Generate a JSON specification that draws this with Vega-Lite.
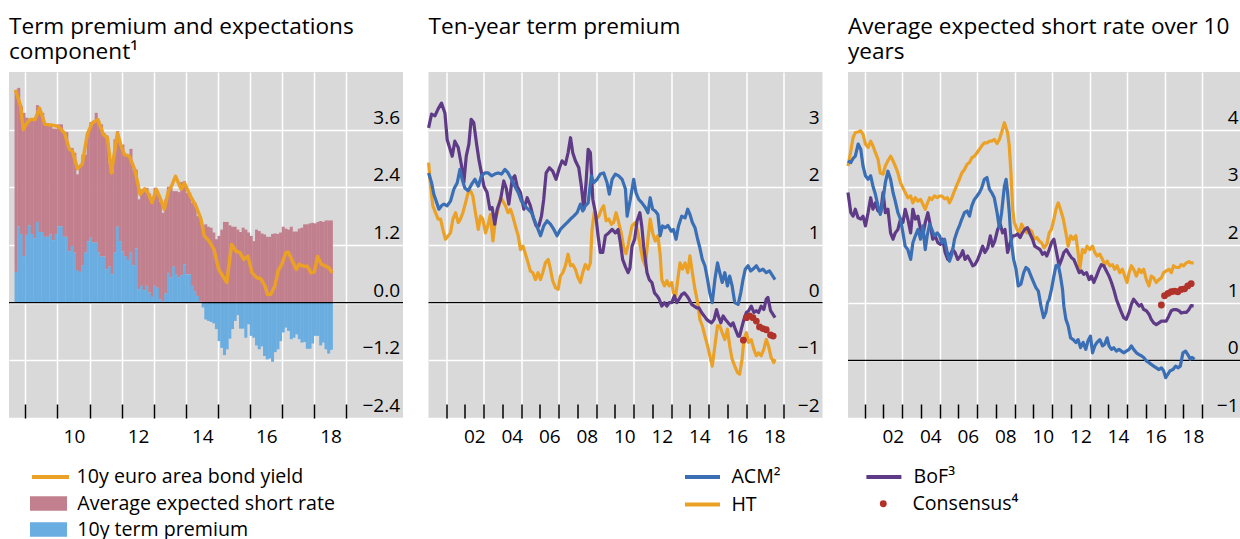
{
"$schema": "https://vega.github.io/schema/vega-lite/v6.json",
"background": "white",
"padding": {"left": 8, "top": 15, "right": 0, "bottom": 0},
"bounds": "flush",
"spacing": 25.5,
"config": {
  "font": "Open Sans",
  "view": {"fill": "#D9D9D9", "stroke": null},
  "axis": {"labelFont": "Open Sans", "labelFontSize": 19, "labelColor": "#000000", "domain": false, "gridColor": "#FFFFFF", "gridWidth": 1.5, "gridOpacity": 1},
  "legend": {"labelFont": "Open Sans", "labelFontSize": 19.6, "labelColor": "#000000", "padding": 0, "orient": "none", "labelLimit": 500},
  "title": {"anchor": "start", "frame": "group", "font": "Open Sans", "fontSize": 22.6, "fontWeight": "normal", "color": "#000000", "lineHeight": 25.5, "offset": 8}
},
"datasets": {
  "p1bars": [
{"t":2008.708,"tp":0.64,"er":3.78},{"t":2008.792,"tp":1.59,"er":2.88},{"t":2008.875,"tp":1.43,"er":2.66},{"t":2008.958,"tp":0.97,"er":2.98},
{"t":2009.042,"tp":1.41,"er":2.44},{"t":2009.125,"tp":1.61,"er":2.20},{"t":2009.208,"tp":1.43,"er":2.38},{"t":2009.292,"tp":1.34,"er":2.47},{"t":2009.375,"tp":1.68,"er":2.43},{"t":2009.458,"tp":1.47,"er":2.51},{"t":2009.542,"tp":1.47,"er":2.48},{"t":2009.625,"tp":1.37,"er":2.34},{"t":2009.708,"tp":1.37,"er":2.34},{"t":2009.792,"tp":1.42,"er":2.27},{"t":2009.875,"tp":1.30,"er":2.32},{"t":2009.958,"tp":1.43,"er":2.19},
{"t":2010.042,"tp":1.59,"er":2.12},{"t":2010.125,"tp":1.59,"er":2.12},{"t":2010.208,"tp":1.37,"er":2.18},{"t":2010.292,"tp":1.37,"er":2.18},{"t":2010.375,"tp":1.07,"er":2.15},{"t":2010.458,"tp":1.18,"er":2.04},{"t":2010.542,"tp":1.04,"er":2.08},{"t":2010.625,"tp":0.68,"er":1.99},{"t":2010.708,"tp":0.64,"er":2.20},{"t":2010.792,"tp":0.78,"er":2.30},{"t":2010.875,"tp":1.04,"er":2.04},{"t":2010.958,"tp":1.28,"er":2.29},
{"t":2011.042,"tp":1.35,"er":2.41},{"t":2011.125,"tp":1.25,"er":2.51},{"t":2011.208,"tp":1.25,"er":2.70},{"t":2011.292,"tp":1.05,"er":2.66},{"t":2011.375,"tp":0.96,"er":2.75},{"t":2011.458,"tp":0.96,"er":2.57},{"t":2011.542,"tp":0.69,"er":2.79},{"t":2011.625,"tp":0.75,"er":2.15},{"t":2011.708,"tp":0.59,"er":2.11},{"t":2011.792,"tp":1.04,"er":2.36},{"t":2011.875,"tp":1.58,"er":1.99},{"t":2011.958,"tp":1.28,"er":2.05},
{"t":2012.042,"tp":1.07,"er":2.22},{"t":2012.125,"tp":0.97,"er":2.08},{"t":2012.208,"tp":0.89,"er":2.19},{"t":2012.292,"tp":1.04,"er":2.16},{"t":2012.375,"tp":0.78,"er":1.99},{"t":2012.458,"tp":1.13,"er":1.64},{"t":2012.542,"tp":0.28,"er":1.87},{"t":2012.625,"tp":0.35,"er":2.01},{"t":2012.708,"tp":0.26,"er":2.13},{"t":2012.792,"tp":0.35,"er":2.04},{"t":2012.875,"tp":0.21,"er":2.06},{"t":2012.958,"tp":0.12,"er":1.96},
{"t":2013.042,"tp":0.35,"er":2.04},{"t":2013.125,"tp":0.31,"er":1.98},{"t":2013.208,"tp":0.07,"er":2.03},{"t":2013.292,"tp":0.02,"er":1.85},{"t":2013.375,"tp":0.19,"er":1.96},{"t":2013.458,"tp":0.62,"er":1.79},{"t":2013.542,"tp":0.52,"er":1.87},{"t":2013.625,"tp":0.75,"er":1.57},{"t":2013.708,"tp":0.58,"er":1.74},{"t":2013.792,"tp":0.52,"er":1.78},{"t":2013.875,"tp":0.57,"er":1.94},{"t":2013.958,"tp":0.80,"er":1.73},
{"t":2014.042,"tp":0.59,"er":1.70},{"t":2014.125,"tp":0.59,"er":1.70},{"t":2014.208,"tp":0.35,"er":1.73},{"t":2014.292,"tp":0.24,"er":1.84},{"t":2014.375,"tp":0.14,"er":1.66},{"t":2014.458,"tp":0.02,"er":1.78},{"t":2014.542,"tp":-0.10,"er":1.61},{"t":2014.625,"tp":-0.35,"er":1.63},{"t":2014.708,"tp":-0.38,"er":1.58},{"t":2014.792,"tp":-0.40,"er":1.56},{"t":2014.875,"tp":-0.43,"er":1.46},{"t":2014.958,"tp":-0.55,"er":1.32},
{"t":2015.042,"tp":-0.80,"er":1.39},{"t":2015.125,"tp":-0.94,"er":1.52},{"t":2015.208,"tp":-1.09,"er":1.68},{"t":2015.292,"tp":-0.97,"er":1.68},{"t":2015.375,"tp":-0.75,"er":1.61},{"t":2015.458,"tp":-0.55,"er":1.58},{"t":2015.542,"tp":-0.38,"er":1.58},{"t":2015.625,"tp":-0.26,"er":1.52},{"t":2015.708,"tp":-0.54,"er":1.47},{"t":2015.792,"tp":-0.54,"er":1.56},{"t":2015.875,"tp":-0.73,"er":1.52},{"t":2015.958,"tp":-0.45,"er":1.46},
{"t":2016.042,"tp":-0.69,"er":1.39},{"t":2016.125,"tp":-0.73,"er":1.28},{"t":2016.208,"tp":-0.89,"er":1.52},{"t":2016.292,"tp":-0.97,"er":1.49},{"t":2016.375,"tp":-0.91,"er":1.44},{"t":2016.458,"tp":-1.11,"er":1.42},{"t":2016.542,"tp":-1.18,"er":1.37},{"t":2016.625,"tp":-1.16,"er":1.37},{"t":2016.708,"tp":-1.23,"er":1.43},{"t":2016.792,"tp":-1.03,"er":1.44},{"t":2016.875,"tp":-0.97,"er":1.43},{"t":2016.958,"tp":-0.80,"er":1.46},
{"t":2017.042,"tp":-0.62,"er":1.58},{"t":2017.125,"tp":-0.52,"er":1.54},{"t":2017.208,"tp":-0.59,"er":1.52},{"t":2017.292,"tp":-0.76,"er":1.58},{"t":2017.375,"tp":-0.73,"er":1.48},{"t":2017.458,"tp":-0.66,"er":1.48},{"t":2017.542,"tp":-0.76,"er":1.54},{"t":2017.625,"tp":-0.83,"er":1.56},{"t":2017.708,"tp":-0.82,"er":1.63},{"t":2017.792,"tp":-0.96,"er":1.63},{"t":2017.875,"tp":-0.96,"er":1.65},{"t":2017.958,"tp":-0.85,"er":1.66},
{"t":2018.042,"tp":-0.69,"er":1.65},{"t":2018.125,"tp":-0.69,"er":1.68},{"t":2018.208,"tp":-0.89,"er":1.70},{"t":2018.292,"tp":-0.83,"er":1.68},{"t":2018.375,"tp":-0.97,"er":1.71},{"t":2018.458,"tp":-1.06,"er":1.71},{"t":2018.542,"tp":-0.98,"er":1.71}
  ],
  "p1y": [
{"t":2008.69,"v":4.43},{"t":2008.85,"v":4.09},{"t":2008.93,"v":3.6},{"t":2009.05,"v":3.74},{"t":2009.15,"v":3.81},{"t":2009.30,"v":3.81},{"t":2009.44,"v":4.05},{"t":2009.61,"v":3.71},{"t":2009.86,"v":3.69},{"t":2010.01,"v":3.67},{"t":2010.22,"v":3.53},{"t":2010.37,"v":3.19},{"t":2010.47,"v":3.15},{"t":2010.62,"v":2.79},{"t":2010.77,"v":2.88},{"t":2010.93,"v":3.5},{"t":2011.08,"v":3.74},{"t":2011.26,"v":3.81},{"t":2011.43,"v":3.5},{"t":2011.56,"v":3.43},{"t":2011.68,"v":2.70},{"t":2011.87,"v":3.53},{"t":2011.97,"v":3.29},{"t":2012.09,"v":3.08},{"t":2012.24,"v":3.05},{"t":2012.41,"v":2.77},{"t":2012.58,"v":2.25},{"t":2012.72,"v":2.37},{"t":2012.82,"v":2.29},{"t":2012.95,"v":2.08},{"t":2013.08,"v":2.36},{"t":2013.20,"v":2.18},{"t":2013.33,"v":1.94},{"t":2013.46,"v":2.32},{"t":2013.56,"v":2.43},{"t":2013.68,"v":2.63},{"t":2013.86,"v":2.36},{"t":2013.96,"v":2.49},{"t":2014.12,"v":2.25},{"t":2014.32,"v":2.01},{"t":2014.47,"v":1.75},{"t":2014.58,"v":1.39},{"t":2014.73,"v":1.28},{"t":2014.88,"v":1.11},{"t":2015.03,"v":0.69},{"t":2015.16,"v":0.55},{"t":2015.28,"v":0.42},{"t":2015.43,"v":1.21},{"t":2015.57,"v":1.07},{"t":2015.69,"v":1.04},{"t":2015.81,"v":0.90},{"t":2015.94,"v":0.97},{"t":2016.07,"v":0.62},{"t":2016.21,"v":0.52},{"t":2016.34,"v":0.50},{"t":2016.47,"v":0.35},{"t":2016.55,"v":0.17},{"t":2016.65,"v":0.17},{"t":2016.78,"v":0.35},{"t":2016.88,"v":0.66},{"t":2017.0,"v":0.80},{"t":2017.12,"v":1.04},{"t":2017.20,"v":1.05},{"t":2017.35,"v":0.83},{"t":2017.45,"v":0.69},{"t":2017.53,"v":0.80},{"t":2017.66,"v":0.76},{"t":2017.79,"v":0.76},{"t":2017.91,"v":0.62},{"t":2018.01,"v":0.64},{"t":2018.11,"v":0.96},{"t":2018.23,"v":0.80},{"t":2018.36,"v":0.76},{"t":2018.46,"v":0.73},{"t":2018.57,"v":0.62}
  ],
  "p2acm": [
{"t":2000.06,"v":2.25},{"t":2000.22,"v":2.08},{"t":2000.34,"v":1.88},{"t":2000.47,"v":1.76},{"t":2000.61,"v":1.62},{"t":2000.75,"v":1.68},{"t":2000.88,"v":1.71},{"t":2001.05,"v":1.68},{"t":2001.23,"v":1.76},{"t":2001.41,"v":1.97},{"t":2001.59,"v":2.08},{"t":2001.73,"v":2.31},{"t":2001.85,"v":2.14},{"t":2001.99,"v":1.99},{"t":2002.17,"v":1.94},{"t":2002.35,"v":2.05},{"t":2002.53,"v":2.14},{"t":2002.71,"v":2.02},{"t":2002.88,"v":2.20},{"t":2003.06,"v":2.25},{"t":2003.24,"v":2.25},{"t":2003.42,"v":2.20},{"t":2003.59,"v":2.23},{"t":2003.77,"v":2.25},{"t":2003.95,"v":2.23},{"t":2004.13,"v":2.31},{"t":2004.30,"v":2.25},{"t":2004.48,"v":2.14},{"t":2004.66,"v":2.02},{"t":2004.84,"v":1.91},{"t":2005.01,"v":1.76},{"t":2005.19,"v":1.68},{"t":2005.37,"v":1.62},{"t":2005.55,"v":1.56},{"t":2005.72,"v":1.42},{"t":2005.90,"v":1.27},{"t":2006.03,"v":1.16},{"t":2006.20,"v":1.33},{"t":2006.38,"v":1.42},{"t":2006.56,"v":1.36},{"t":2006.74,"v":1.27},{"t":2006.91,"v":1.16},{"t":2007.09,"v":1.27},{"t":2007.27,"v":1.33},{"t":2007.45,"v":1.39},{"t":2007.63,"v":1.45},{"t":2007.80,"v":1.50},{"t":2007.98,"v":1.56},{"t":2008.16,"v":1.71},{"t":2008.28,"v":1.59},{"t":2008.42,"v":1.68},{"t":2008.57,"v":1.73},{"t":2008.74,"v":2.20},{"t":2008.87,"v":2.08},{"t":2009.05,"v":2.14},{"t":2009.22,"v":2.23},{"t":2009.40,"v":2.25},{"t":2009.58,"v":2.08},{"t":2009.70,"v":1.88},{"t":2009.85,"v":2.14},{"t":2010.02,"v":2.23},{"t":2010.20,"v":2.20},{"t":2010.38,"v":2.14},{"t":2010.56,"v":1.97},{"t":2010.65,"v":1.50},{"t":2010.82,"v":1.79},{"t":2011.0,"v":2.14},{"t":2011.12,"v":1.91},{"t":2011.27,"v":1.79},{"t":2011.44,"v":1.73},{"t":2011.62,"v":1.65},{"t":2011.76,"v":1.56},{"t":2011.88,"v":1.82},{"t":2012.01,"v":1.62},{"t":2012.15,"v":1.59},{"t":2012.29,"v":1.53},{"t":2012.41,"v":1.16},{"t":2012.54,"v":1.33},{"t":2012.68,"v":1.30},{"t":2012.82,"v":1.34},{"t":2013.0,"v":1.24},{"t":2013.12,"v":1.27},{"t":2013.26,"v":1.10},{"t":2013.39,"v":1.33},{"t":2013.56,"v":1.50},{"t":2013.74,"v":1.47},{"t":2013.88,"v":1.62},{"t":2014.0,"v":1.53},{"t":2014.13,"v":1.39},{"t":2014.27,"v":1.30},{"t":2014.41,"v":1.10},{"t":2014.53,"v":0.95},{"t":2014.66,"v":0.75},{"t":2014.80,"v":0.64},{"t":2014.94,"v":0.40},{"t":2015.06,"v":0.17},{"t":2015.19,"v":0.0},{"t":2015.33,"v":0.40},{"t":2015.47,"v":0.69},{"t":2015.59,"v":0.52},{"t":2015.72,"v":0.35},{"t":2015.86,"v":0.52},{"t":2016.0,"v":0.29},{"t":2016.12,"v":0.46},{"t":2016.25,"v":0.29},{"t":2016.39,"v":0.0},{"t":2016.57,"v":-0.03},{"t":2016.71,"v":0.17},{"t":2016.83,"v":0.40},{"t":2016.95,"v":0.58},{"t":2017.10,"v":0.64},{"t":2017.24,"v":0.55},{"t":2017.36,"v":0.58},{"t":2017.54,"v":0.64},{"t":2017.71,"v":0.55},{"t":2017.89,"v":0.58},{"t":2018.07,"v":0.52},{"t":2018.24,"v":0.55},{"t":2018.42,"v":0.46},{"t":2018.54,"v":0.40}
  ],
  "p2ht": [
{"t":2000.06,"v":2.43},{"t":2000.17,"v":2.02},{"t":2000.29,"v":1.68},{"t":2000.43,"v":1.56},{"t":2000.57,"v":1.45},{"t":2000.70,"v":1.45},{"t":2000.82,"v":1.27},{"t":2000.96,"v":1.10},{"t":2001.11,"v":1.16},{"t":2001.23,"v":1.21},{"t":2001.36,"v":1.45},{"t":2001.50,"v":1.56},{"t":2001.64,"v":1.39},{"t":2001.76,"v":1.45},{"t":2001.89,"v":1.56},{"t":2002.03,"v":1.73},{"t":2002.17,"v":1.91},{"t":2002.30,"v":1.94},{"t":2002.42,"v":1.85},{"t":2002.56,"v":1.56},{"t":2002.71,"v":1.27},{"t":2002.83,"v":1.50},{"t":2002.95,"v":1.45},{"t":2003.10,"v":1.21},{"t":2003.24,"v":1.36},{"t":2003.36,"v":1.53},{"t":2003.49,"v":1.07},{"t":2003.63,"v":1.45},{"t":2003.77,"v":1.62},{"t":2003.90,"v":1.82},{"t":2004.02,"v":1.76},{"t":2004.16,"v":1.68},{"t":2004.30,"v":1.56},{"t":2004.43,"v":1.62},{"t":2004.55,"v":1.50},{"t":2004.69,"v":1.33},{"t":2004.84,"v":1.16},{"t":2004.96,"v":0.92},{"t":2005.10,"v":0.98},{"t":2005.23,"v":0.84},{"t":2005.37,"v":0.69},{"t":2005.49,"v":0.55},{"t":2005.62,"v":0.52},{"t":2005.76,"v":0.40},{"t":2005.90,"v":0.52},{"t":2006.03,"v":0.40},{"t":2006.15,"v":0.52},{"t":2006.29,"v":0.69},{"t":2006.44,"v":0.75},{"t":2006.56,"v":0.58},{"t":2006.68,"v":0.38},{"t":2006.83,"v":0.26},{"t":2006.97,"v":0.23},{"t":2007.09,"v":0.46},{"t":2007.22,"v":0.52},{"t":2007.36,"v":0.64},{"t":2007.50,"v":0.84},{"t":2007.63,"v":0.64},{"t":2007.75,"v":0.66},{"t":2007.89,"v":0.58},{"t":2008.03,"v":0.43},{"t":2008.16,"v":0.35},{"t":2008.28,"v":0.52},{"t":2008.42,"v":0.66},{"t":2008.57,"v":0.58},{"t":2008.69,"v":0.69},{"t":2008.78,"v":1.27},{"t":2008.89,"v":1.56},{"t":2009.01,"v":1.45},{"t":2009.14,"v":1.50},{"t":2009.28,"v":1.62},{"t":2009.40,"v":1.68},{"t":2009.53,"v":1.42},{"t":2009.67,"v":1.45},{"t":2009.81,"v":1.36},{"t":2009.93,"v":1.39},{"t":2010.06,"v":1.56},{"t":2010.20,"v":1.39},{"t":2010.34,"v":1.20},{"t":2010.47,"v":0.95},{"t":2010.59,"v":0.85},{"t":2010.70,"v":1.00},{"t":2010.80,"v":1.16},{"t":2010.91,"v":1.33},{"t":2011.09,"v":1.39},{"t":2011.23,"v":1.21},{"t":2011.35,"v":0.98},{"t":2011.48,"v":0.75},{"t":2011.62,"v":0.64},{"t":2011.76,"v":1.10},{"t":2011.88,"v":1.45},{"t":2012.01,"v":1.21},{"t":2012.15,"v":1.07},{"t":2012.29,"v":1.16},{"t":2012.41,"v":0.84},{"t":2012.50,"v":0.40},{"t":2012.64,"v":0.29},{"t":2012.77,"v":0.38},{"t":2012.89,"v":0.29},{"t":2013.03,"v":0.35},{"t":2013.12,"v":0.17},{"t":2013.24,"v":0.12},{"t":2013.35,"v":0.40},{"t":2013.47,"v":0.69},{"t":2013.60,"v":0.58},{"t":2013.74,"v":0.69},{"t":2013.88,"v":0.52},{"t":2014.0,"v":0.81},{"t":2014.13,"v":0.52},{"t":2014.27,"v":0.23},{"t":2014.41,"v":0.0},{"t":2014.53,"v":-0.29},{"t":2014.66,"v":-0.40},{"t":2014.80,"v":-0.58},{"t":2014.94,"v":-0.75},{"t":2015.06,"v":-0.92},{"t":2015.19,"v":-1.10},{"t":2015.33,"v":-0.75},{"t":2015.47,"v":-0.40},{"t":2015.59,"v":-0.40},{"t":2015.72,"v":-0.52},{"t":2015.86,"v":-0.64},{"t":2016.0,"v":-0.46},{"t":2016.12,"v":-0.75},{"t":2016.25,"v":-0.98},{"t":2016.39,"v":-1.10},{"t":2016.53,"v":-1.21},{"t":2016.65,"v":-1.24},{"t":2016.78,"v":-0.98},{"t":2016.88,"v":-0.64},{"t":2017.01,"v":-0.52},{"t":2017.13,"v":-0.69},{"t":2017.27,"v":-0.64},{"t":2017.41,"v":-0.81},{"t":2017.54,"v":-0.92},{"t":2017.66,"v":-0.87},{"t":2017.80,"v":-0.92},{"t":2017.94,"v":-0.81},{"t":2018.07,"v":-0.64},{"t":2018.19,"v":-0.75},{"t":2018.33,"v":-0.95},{"t":2018.47,"v":-1.04},{"t":2018.54,"v":-0.98}
  ],
  "p2bof": [
{"t":2000.06,"v":3.03},{"t":2000.22,"v":3.27},{"t":2000.40,"v":3.24},{"t":2000.57,"v":3.36},{"t":2000.75,"v":3.46},{"t":2000.93,"v":3.29},{"t":2001.05,"v":2.83},{"t":2001.18,"v":2.69},{"t":2001.32,"v":2.54},{"t":2001.46,"v":2.80},{"t":2001.64,"v":2.69},{"t":2001.82,"v":2.37},{"t":2001.94,"v":2.08},{"t":2002.07,"v":2.54},{"t":2002.21,"v":2.75},{"t":2002.33,"v":3.18},{"t":2002.47,"v":3.12},{"t":2002.62,"v":2.75},{"t":2002.74,"v":2.49},{"t":2002.88,"v":2.25},{"t":2003.01,"v":2.02},{"t":2003.18,"v":1.91},{"t":2003.33,"v":1.62},{"t":2003.45,"v":1.65},{"t":2003.59,"v":1.36},{"t":2003.72,"v":1.62},{"t":2003.90,"v":1.79},{"t":2004.07,"v":2.11},{"t":2004.20,"v":1.99},{"t":2004.34,"v":1.71},{"t":2004.52,"v":2.14},{"t":2004.66,"v":2.20},{"t":2004.78,"v":2.02},{"t":2004.96,"v":1.91},{"t":2005.14,"v":1.62},{"t":2005.32,"v":1.82},{"t":2005.49,"v":1.68},{"t":2005.67,"v":1.45},{"t":2005.80,"v":1.33},{"t":2005.94,"v":1.33},{"t":2006.08,"v":1.50},{"t":2006.20,"v":1.79},{"t":2006.33,"v":2.25},{"t":2006.51,"v":2.34},{"t":2006.68,"v":2.28},{"t":2006.86,"v":2.14},{"t":2007.04,"v":2.34},{"t":2007.18,"v":2.46},{"t":2007.36,"v":2.40},{"t":2007.50,"v":2.60},{"t":2007.63,"v":2.86},{"t":2007.75,"v":2.60},{"t":2007.89,"v":2.46},{"t":2008.07,"v":2.34},{"t":2008.21,"v":2.02},{"t":2008.34,"v":1.62},{"t":2008.46,"v":2.08},{"t":2008.57,"v":2.66},{"t":2008.69,"v":2.60},{"t":2008.82,"v":1.79},{"t":2008.96,"v":1.56},{"t":2009.10,"v":1.16},{"t":2009.22,"v":0.87},{"t":2009.35,"v":0.87},{"t":2009.49,"v":1.16},{"t":2009.67,"v":1.21},{"t":2009.85,"v":1.27},{"t":2010.02,"v":1.21},{"t":2010.17,"v":1.27},{"t":2010.29,"v":1.04},{"t":2010.41,"v":0.75},{"t":2010.56,"v":0.62},{"t":2010.70,"v":0.52},{"t":2010.80,"v":0.60},{"t":2010.91,"v":0.98},{"t":2011.05,"v":1.10},{"t":2011.18,"v":1.42},{"t":2011.33,"v":1.56},{"t":2011.43,"v":1.33},{"t":2011.53,"v":0.98},{"t":2011.62,"v":0.75},{"t":2011.71,"v":0.52},{"t":2011.83,"v":0.40},{"t":2011.97,"v":0.35},{"t":2012.11,"v":0.17},{"t":2012.24,"v":0.12},{"t":2012.36,"v":0.06},{"t":2012.50,"v":-0.06},{"t":2012.64,"v":0.0},{"t":2012.77,"v":-0.06},{"t":2012.89,"v":0.0},{"t":2013.03,"v":0.0},{"t":2013.17,"v":0.12},{"t":2013.30,"v":0.0},{"t":2013.42,"v":0.06},{"t":2013.56,"v":0.14},{"t":2013.70,"v":0.17},{"t":2013.83,"v":0.12},{"t":2013.95,"v":0.06},{"t":2014.09,"v":-0.03},{"t":2014.23,"v":-0.06},{"t":2014.36,"v":-0.09},{"t":2014.48,"v":-0.09},{"t":2014.62,"v":-0.17},{"t":2014.76,"v":-0.23},{"t":2014.89,"v":-0.29},{"t":2015.01,"v":-0.32},{"t":2015.15,"v":-0.35},{"t":2015.29,"v":-0.29},{"t":2015.42,"v":-0.12},{"t":2015.51,"v":-0.23},{"t":2015.65,"v":-0.35},{"t":2015.77,"v":-0.23},{"t":2015.89,"v":-0.29},{"t":2016.04,"v":-0.35},{"t":2016.18,"v":-0.40},{"t":2016.30,"v":-0.35},{"t":2016.42,"v":-0.46},{"t":2016.57,"v":-0.58},{"t":2016.65,"v":-0.58},{"t":2016.74,"v":-0.46},{"t":2016.88,"v":-0.29},{"t":2017.01,"v":-0.17},{"t":2017.13,"v":-0.14},{"t":2017.27,"v":-0.06},{"t":2017.41,"v":-0.17},{"t":2017.54,"v":-0.14},{"t":2017.66,"v":-0.17},{"t":2017.80,"v":-0.06},{"t":2017.94,"v":-0.12},{"t":2018.07,"v":0.06},{"t":2018.16,"v":0.09},{"t":2018.30,"v":-0.14},{"t":2018.42,"v":-0.20},{"t":2018.54,"v":-0.26}
  ],
  "p2con": [
{"t":2016.85,"v":-0.65},{"t":2017.01,"v":-0.26},{"t":2017.18,"v":-0.23},{"t":2017.36,"v":-0.26},{"t":2017.54,"v":-0.32},{"t":2017.71,"v":-0.42},{"t":2017.89,"v":-0.45},{"t":2018.07,"v":-0.47},{"t":2018.30,"v":-0.56},{"t":2018.44,"v":-0.58}
  ],
  "p3acm": [
{"t":2000.11,"v":3.46},{"t":2000.26,"v":3.43},{"t":2000.38,"v":3.50},{"t":2000.50,"v":3.54},{"t":2000.65,"v":3.75},{"t":2000.79,"v":3.66},{"t":2000.91,"v":3.37},{"t":2001.04,"v":3.20},{"t":2001.18,"v":3.14},{"t":2001.32,"v":3.20},{"t":2001.44,"v":3.02},{"t":2001.57,"v":2.88},{"t":2001.71,"v":2.68},{"t":2001.83,"v":2.53},{"t":2001.98,"v":2.79},{"t":2002.10,"v":3.08},{"t":2002.24,"v":3.28},{"t":2002.38,"v":3.14},{"t":2002.51,"v":2.91},{"t":2002.63,"v":2.76},{"t":2002.77,"v":2.56},{"t":2002.91,"v":2.45},{"t":2003.04,"v":2.21},{"t":2003.16,"v":1.98},{"t":2003.30,"v":1.92},{"t":2003.45,"v":1.75},{"t":2003.57,"v":2.04},{"t":2003.70,"v":2.16},{"t":2003.84,"v":2.27},{"t":2003.98,"v":2.10},{"t":2004.10,"v":2.33},{"t":2004.23,"v":1.92},{"t":2004.33,"v":2.16},{"t":2004.46,"v":2.36},{"t":2004.58,"v":2.27},{"t":2004.72,"v":2.16},{"t":2004.87,"v":2.21},{"t":2004.99,"v":2.16},{"t":2005.11,"v":2.04},{"t":2005.26,"v":2.10},{"t":2005.40,"v":1.87},{"t":2005.52,"v":1.72},{"t":2005.65,"v":1.84},{"t":2005.79,"v":2.10},{"t":2005.93,"v":2.24},{"t":2006.05,"v":2.33},{"t":2006.18,"v":2.45},{"t":2006.32,"v":2.56},{"t":2006.46,"v":2.59},{"t":2006.59,"v":2.50},{"t":2006.71,"v":2.68},{"t":2006.85,"v":2.79},{"t":2006.99,"v":2.85},{"t":2007.12,"v":2.91},{"t":2007.24,"v":2.99},{"t":2007.38,"v":3.14},{"t":2007.52,"v":3.17},{"t":2007.65,"v":2.97},{"t":2007.77,"v":2.91},{"t":2007.91,"v":2.82},{"t":2008.06,"v":2.56},{"t":2008.18,"v":2.30},{"t":2008.30,"v":2.56},{"t":2008.45,"v":3.02},{"t":2008.54,"v":3.14},{"t":2008.62,"v":2.91},{"t":2008.71,"v":2.56},{"t":2008.80,"v":2.10},{"t":2008.94,"v":1.75},{"t":2009.07,"v":1.58},{"t":2009.19,"v":1.29},{"t":2009.33,"v":1.32},{"t":2009.48,"v":1.52},{"t":2009.60,"v":1.61},{"t":2009.72,"v":1.58},{"t":2009.87,"v":1.46},{"t":2010.01,"v":1.35},{"t":2010.13,"v":1.26},{"t":2010.26,"v":1.20},{"t":2010.40,"v":0.94},{"t":2010.54,"v":0.74},{"t":2010.66,"v":0.83},{"t":2010.75,"v":1.00},{"t":2010.84,"v":1.06},{"t":2010.96,"v":1.23},{"t":2011.09,"v":1.46},{"t":2011.20,"v":1.64},{"t":2011.32,"v":1.66},{"t":2011.44,"v":1.46},{"t":2011.55,"v":1.23},{"t":2011.62,"v":0.94},{"t":2011.73,"v":0.71},{"t":2011.85,"v":0.60},{"t":2011.98,"v":0.39},{"t":2012.12,"v":0.36},{"t":2012.26,"v":0.31},{"t":2012.38,"v":0.36},{"t":2012.51,"v":0.22},{"t":2012.65,"v":0.31},{"t":2012.79,"v":0.19},{"t":2012.91,"v":0.34},{"t":2013.04,"v":0.42},{"t":2013.15,"v":0.13},{"t":2013.27,"v":0.25},{"t":2013.39,"v":0.31},{"t":2013.54,"v":0.36},{"t":2013.68,"v":0.25},{"t":2013.80,"v":0.28},{"t":2013.93,"v":0.39},{"t":2014.03,"v":0.25},{"t":2014.16,"v":0.19},{"t":2014.28,"v":0.22},{"t":2014.42,"v":0.16},{"t":2014.56,"v":0.19},{"t":2014.69,"v":0.16},{"t":2014.81,"v":0.13},{"t":2014.95,"v":0.16},{"t":2015.10,"v":0.19},{"t":2015.22,"v":0.25},{"t":2015.34,"v":0.19},{"t":2015.49,"v":0.13},{"t":2015.63,"v":0.10},{"t":2015.75,"v":0.08},{"t":2015.88,"v":0.05},{"t":2016.02,"v":-0.01},{"t":2016.16,"v":-0.04},{"t":2016.28,"v":-0.07},{"t":2016.41,"v":-0.10},{"t":2016.55,"v":-0.13},{"t":2016.69,"v":-0.16},{"t":2016.82,"v":-0.13},{"t":2016.94,"v":-0.18},{"t":2017.05,"v":-0.30},{"t":2017.17,"v":-0.24},{"t":2017.29,"v":-0.18},{"t":2017.44,"v":-0.16},{"t":2017.58,"v":-0.10},{"t":2017.70,"v":-0.13},{"t":2017.83,"v":-0.10},{"t":2017.97,"v":0.13},{"t":2018.11,"v":0.16},{"t":2018.23,"v":0.10},{"t":2018.36,"v":0.02},{"t":2018.46,"v":0.05},{"t":2018.59,"v":0.02}
  ],
  "p3ht": [
{"t":2000.11,"v":3.37},{"t":2000.26,"v":3.63},{"t":2000.38,"v":3.86},{"t":2000.50,"v":3.95},{"t":2000.65,"v":3.96},{"t":2000.79,"v":3.98},{"t":2000.91,"v":3.92},{"t":2001.04,"v":3.75},{"t":2001.18,"v":3.69},{"t":2001.32,"v":3.80},{"t":2001.44,"v":3.72},{"t":2001.57,"v":3.60},{"t":2001.71,"v":3.49},{"t":2001.83,"v":3.25},{"t":2001.98,"v":3.23},{"t":2002.10,"v":3.37},{"t":2002.24,"v":3.46},{"t":2002.38,"v":3.54},{"t":2002.51,"v":3.46},{"t":2002.63,"v":3.37},{"t":2002.77,"v":3.25},{"t":2002.91,"v":3.08},{"t":2003.04,"v":2.99},{"t":2003.16,"v":2.91},{"t":2003.30,"v":2.82},{"t":2003.45,"v":2.85},{"t":2003.57,"v":2.73},{"t":2003.70,"v":2.82},{"t":2003.84,"v":2.76},{"t":2003.98,"v":2.79},{"t":2004.10,"v":2.71},{"t":2004.23,"v":2.62},{"t":2004.33,"v":2.71},{"t":2004.46,"v":2.82},{"t":2004.58,"v":2.79},{"t":2004.72,"v":2.85},{"t":2004.87,"v":2.82},{"t":2004.99,"v":2.85},{"t":2005.11,"v":2.85},{"t":2005.26,"v":2.80},{"t":2005.40,"v":2.82},{"t":2005.52,"v":2.73},{"t":2005.65,"v":2.82},{"t":2005.79,"v":2.94},{"t":2005.93,"v":3.05},{"t":2006.05,"v":3.14},{"t":2006.18,"v":3.25},{"t":2006.32,"v":3.31},{"t":2006.46,"v":3.40},{"t":2006.59,"v":3.43},{"t":2006.71,"v":3.51},{"t":2006.85,"v":3.54},{"t":2006.99,"v":3.60},{"t":2007.12,"v":3.66},{"t":2007.24,"v":3.72},{"t":2007.38,"v":3.77},{"t":2007.52,"v":3.77},{"t":2007.65,"v":3.80},{"t":2007.77,"v":3.80},{"t":2007.91,"v":3.83},{"t":2008.06,"v":3.76},{"t":2008.18,"v":3.83},{"t":2008.30,"v":3.95},{"t":2008.45,"v":4.12},{"t":2008.54,"v":4.03},{"t":2008.62,"v":3.95},{"t":2008.71,"v":3.72},{"t":2008.80,"v":3.25},{"t":2008.89,"v":2.62},{"t":2008.98,"v":2.39},{"t":2009.12,"v":2.27},{"t":2009.24,"v":2.21},{"t":2009.37,"v":2.36},{"t":2009.51,"v":2.27},{"t":2009.65,"v":2.21},{"t":2009.78,"v":2.27},{"t":2009.90,"v":2.24},{"t":2010.04,"v":2.10},{"t":2010.18,"v":2.13},{"t":2010.31,"v":2.07},{"t":2010.43,"v":2.04},{"t":2010.57,"v":1.95},{"t":2010.72,"v":2.02},{"t":2010.84,"v":2.21},{"t":2010.96,"v":2.27},{"t":2011.09,"v":2.45},{"t":2011.20,"v":2.62},{"t":2011.32,"v":2.73},{"t":2011.44,"v":2.62},{"t":2011.59,"v":2.45},{"t":2011.73,"v":2.21},{"t":2011.85,"v":1.98},{"t":2011.98,"v":2.16},{"t":2012.12,"v":2.10},{"t":2012.26,"v":2.16},{"t":2012.38,"v":1.87},{"t":2012.47,"v":1.58},{"t":2012.61,"v":1.92},{"t":2012.74,"v":1.87},{"t":2012.86,"v":1.98},{"t":2013.0,"v":1.92},{"t":2013.15,"v":1.98},{"t":2013.27,"v":1.87},{"t":2013.39,"v":1.81},{"t":2013.54,"v":1.84},{"t":2013.68,"v":1.75},{"t":2013.80,"v":1.66},{"t":2013.93,"v":1.72},{"t":2014.07,"v":1.64},{"t":2014.21,"v":1.66},{"t":2014.33,"v":1.58},{"t":2014.46,"v":1.64},{"t":2014.60,"v":1.52},{"t":2014.74,"v":1.58},{"t":2014.87,"v":1.46},{"t":2014.99,"v":1.35},{"t":2015.10,"v":1.52},{"t":2015.22,"v":1.64},{"t":2015.34,"v":1.58},{"t":2015.49,"v":1.46},{"t":2015.63,"v":1.58},{"t":2015.75,"v":1.52},{"t":2015.88,"v":1.58},{"t":2016.02,"v":1.40},{"t":2016.16,"v":1.29},{"t":2016.28,"v":1.46},{"t":2016.41,"v":1.43},{"t":2016.55,"v":1.35},{"t":2016.69,"v":1.40},{"t":2016.82,"v":1.43},{"t":2016.94,"v":1.52},{"t":2017.08,"v":1.55},{"t":2017.22,"v":1.58},{"t":2017.35,"v":1.52},{"t":2017.47,"v":1.64},{"t":2017.61,"v":1.61},{"t":2017.76,"v":1.61},{"t":2017.88,"v":1.66},{"t":2018.0,"v":1.64},{"t":2018.15,"v":1.69},{"t":2018.29,"v":1.71},{"t":2018.41,"v":1.69},{"t":2018.54,"v":1.69}
  ],
  "p3bof": [
{"t":2000.11,"v":2.91},{"t":2000.26,"v":2.56},{"t":2000.38,"v":2.50},{"t":2000.50,"v":2.62},{"t":2000.65,"v":2.47},{"t":2000.79,"v":2.45},{"t":2000.91,"v":2.50},{"t":2001.04,"v":2.33},{"t":2001.18,"v":2.56},{"t":2001.32,"v":2.82},{"t":2001.44,"v":2.62},{"t":2001.57,"v":2.73},{"t":2001.71,"v":2.59},{"t":2001.85,"v":2.56},{"t":2001.98,"v":2.91},{"t":2002.10,"v":2.56},{"t":2002.24,"v":2.62},{"t":2002.38,"v":2.21},{"t":2002.51,"v":2.10},{"t":2002.63,"v":2.21},{"t":2002.77,"v":2.27},{"t":2002.91,"v":2.45},{"t":2003.04,"v":2.39},{"t":2003.16,"v":2.62},{"t":2003.30,"v":2.45},{"t":2003.45,"v":2.21},{"t":2003.57,"v":2.62},{"t":2003.70,"v":2.45},{"t":2003.84,"v":2.50},{"t":2003.98,"v":2.27},{"t":2004.10,"v":2.16},{"t":2004.23,"v":2.39},{"t":2004.37,"v":2.56},{"t":2004.51,"v":2.33},{"t":2004.63,"v":2.10},{"t":2004.76,"v":2.16},{"t":2004.90,"v":2.04},{"t":2005.04,"v":2.01},{"t":2005.16,"v":2.10},{"t":2005.29,"v":1.87},{"t":2005.43,"v":1.75},{"t":2005.57,"v":1.84},{"t":2005.69,"v":1.92},{"t":2005.82,"v":1.87},{"t":2005.96,"v":1.75},{"t":2006.11,"v":1.81},{"t":2006.23,"v":1.90},{"t":2006.35,"v":1.75},{"t":2006.49,"v":1.81},{"t":2006.64,"v":1.72},{"t":2006.76,"v":1.64},{"t":2006.88,"v":1.66},{"t":2007.03,"v":1.75},{"t":2007.17,"v":1.87},{"t":2007.29,"v":1.98},{"t":2007.41,"v":1.87},{"t":2007.56,"v":1.95},{"t":2007.70,"v":2.16},{"t":2007.82,"v":1.98},{"t":2007.94,"v":2.07},{"t":2008.09,"v":2.27},{"t":2008.23,"v":2.36},{"t":2008.35,"v":2.21},{"t":2008.48,"v":2.27},{"t":2008.62,"v":1.87},{"t":2008.76,"v":2.04},{"t":2008.89,"v":2.16},{"t":2009.01,"v":2.16},{"t":2009.15,"v":2.19},{"t":2009.29,"v":2.13},{"t":2009.41,"v":2.21},{"t":2009.54,"v":2.27},{"t":2009.68,"v":2.30},{"t":2009.82,"v":2.19},{"t":2009.95,"v":2.10},{"t":2010.07,"v":1.98},{"t":2010.21,"v":1.95},{"t":2010.35,"v":1.92},{"t":2010.48,"v":1.84},{"t":2010.60,"v":1.87},{"t":2010.71,"v":1.81},{"t":2010.84,"v":1.92},{"t":2010.96,"v":2.04},{"t":2011.09,"v":2.10},{"t":2011.23,"v":1.87},{"t":2011.37,"v":1.64},{"t":2011.50,"v":1.75},{"t":2011.62,"v":1.87},{"t":2011.76,"v":1.92},{"t":2011.90,"v":1.84},{"t":2012.03,"v":1.78},{"t":2012.15,"v":1.75},{"t":2012.29,"v":1.64},{"t":2012.44,"v":1.52},{"t":2012.56,"v":1.55},{"t":2012.68,"v":1.49},{"t":2012.83,"v":1.52},{"t":2012.97,"v":1.40},{"t":2013.09,"v":1.46},{"t":2013.22,"v":1.35},{"t":2013.36,"v":1.46},{"t":2013.50,"v":1.58},{"t":2013.62,"v":1.66},{"t":2013.75,"v":1.64},{"t":2013.89,"v":1.55},{"t":2014.03,"v":1.46},{"t":2014.16,"v":1.35},{"t":2014.28,"v":1.23},{"t":2014.42,"v":1.06},{"t":2014.56,"v":0.94},{"t":2014.69,"v":0.83},{"t":2014.81,"v":0.74},{"t":2014.95,"v":0.71},{"t":2015.10,"v":0.83},{"t":2015.22,"v":0.97},{"t":2015.34,"v":1.06},{"t":2015.49,"v":1.00},{"t":2015.63,"v":0.94},{"t":2015.75,"v":0.97},{"t":2015.88,"v":0.88},{"t":2016.02,"v":0.86},{"t":2016.16,"v":0.80},{"t":2016.28,"v":0.71},{"t":2016.41,"v":0.65},{"t":2016.55,"v":0.62},{"t":2016.69,"v":0.65},{"t":2016.82,"v":0.68},{"t":2016.94,"v":0.68},{"t":2017.08,"v":0.68},{"t":2017.22,"v":0.77},{"t":2017.35,"v":0.86},{"t":2017.47,"v":0.88},{"t":2017.61,"v":0.88},{"t":2017.76,"v":0.86},{"t":2017.88,"v":0.82},{"t":2018.0,"v":0.83},{"t":2018.15,"v":0.83},{"t":2018.29,"v":0.88},{"t":2018.41,"v":0.95},{"t":2018.54,"v":0.94}
  ],
  "p3con": [
{"t":2016.82,"v":0.96},{"t":2016.99,"v":1.12},{"t":2017.17,"v":1.16},{"t":2017.35,"v":1.19},{"t":2017.52,"v":1.20},{"t":2017.70,"v":1.19},{"t":2017.88,"v":1.23},{"t":2018.06,"v":1.24},{"t":2018.23,"v":1.29},{"t":2018.41,"v":1.33}
  ]
},
"hconcat": [
  {
    "width": 394, "height": 346,
    "title": {"text": ["Term premium and expectations", "component¹"]},
    "layer": [
      {
        "data": {"name": "p1bars"},
        "transform": [{"fold": ["er", "tp"], "as": ["c", "v"]}],
        "mark": {"type": "bar", "size": 3},
        "encoding": {
          "x": {"field": "t", "type": "quantitative", "scale": {"domain": [2008.644, 2020.62], "nice": false, "zero": false},
                "axis": {"title": null, "orient": "bottom", "values": [2009,2010,2011,2012,2013,2014,2015,2016,2017,2018,2019], "domain": false, "ticks": true, "tickSize": -14, "tickColor": "#000000", "tickWidth": 1.5, "grid": true, "labelExpr": "datum.value % 2 == 0 ? substring(toString(datum.value), 2, 4) : ''", "labelOffset": 16.5, "labelPadding": 38, "labelBaseline": "alphabetic", "labelFlush": false, "labelOverlap": false}},
          "y": {"field": "v", "type": "quantitative", "stack": "zero", "scale": {"domain": [-2.4, 4.8], "nice": false, "zero": false},
                "axis": {"title": null, "orient": "right", "values": [-2.4, -1.2, 0, 1.2, 2.4, 3.6], "format": ".1f", "domain": false, "ticks": false, "grid": true, "labelAlign": "right", "labelPadding": -3.5, "labelBaseline": "alphabetic", "labelOffset": -6.5}},
          "fill": {"field": "c", "type": "nominal", "scale": {"domain": ["er", "tp"], "range": ["#C27F8E", "#6AADE1"]},
                   "legend": {"title": null, "orient": "none", "legendX": 29.5, "legendY": 421.5, "symbolType": "M-1.85,-0.73H1.85V0.73H-1.85Z", "symbolSize": 400, "symbolStrokeWidth": 0, "rowPadding": 6, "labelOffset": 18.8, "labelExpr": "datum.label == 'er' ? 'Average expected short rate' : '10y term premium'"}},
          "order": {"field": "c", "sort": "descending"}
        }
      },
      {
        "data": {"values": [{}]},
        "mark": {"type": "rule", "color": "#000000", "strokeWidth": 1.3},
        "encoding": {"y": {"datum": 0, "type": "quantitative",
                "axis": {"title": null, "orient": "right", "values": [-2.4, -1.2, 0, 1.2, 2.4, 3.6], "format": ".1f", "domain": false, "ticks": false, "grid": true, "labelAlign": "right", "labelPadding": -3.5, "labelBaseline": "alphabetic", "labelOffset": -6.5}}}
      },
      {
        "data": {"name": "p1y"},
        "mark": {"type": "line", "strokeWidth": 3.5, "strokeJoin": "round"},
        "encoding": {
          "x": {"field": "t", "type": "quantitative",
                "axis": {"title": null, "orient": "bottom", "values": [2009,2010,2011,2012,2013,2014,2015,2016,2017,2018,2019], "domain": false, "ticks": true, "tickSize": -14, "tickColor": "#000000", "tickWidth": 1.5, "grid": true, "labelExpr": "datum.value % 2 == 0 ? substring(toString(datum.value), 2, 4) : ''", "labelOffset": 16.5, "labelPadding": 38, "labelBaseline": "alphabetic", "labelFlush": false, "labelOverlap": false}},
          "y": {"field": "v", "type": "quantitative",
                "axis": {"title": null, "orient": "right", "values": [-2.4, -1.2, 0, 1.2, 2.4, 3.6], "format": ".1f", "domain": false, "ticks": false, "grid": true, "labelAlign": "right", "labelPadding": -3.5, "labelBaseline": "alphabetic", "labelOffset": -6.5}},
          "stroke": {"datum": "10y euro area bond yield", "scale": {"range": ["#EBA125"]},
                     "legend": {"title": null, "orient": "none", "legendX": 29.5, "legendY": 393, "symbolType": "M-1.85,0H1.85", "symbolSize": 400, "symbolStrokeWidth": 4, "labelOffset": 14.1}}
        }
      }
    ]
  },
  {
    "width": 394, "height": 346,
    "title": {"text": ["Ten-year term premium", " "]},
    "layer": [
      {
        "data": {"values": [{}]},
        "mark": {"type": "rule", "color": "#000000", "strokeWidth": 1.3},
        "encoding": {"y": {"datum": 0, "type": "quantitative", "scale": {"domain": [-2, 4], "nice": false, "zero": false},
                           "axis": {"title": null, "orient": "right", "values": [-2, -1, 0, 1, 2, 3], "format": "d", "domain": false, "ticks": false, "grid": true, "labelAlign": "right", "labelPadding": -3.5, "labelBaseline": "alphabetic", "labelOffset": -6.5}}}
      },
      {
        "data": {"name": "p2ht"},
        "mark": {"type": "line", "strokeWidth": 3.2, "strokeJoin": "round"},
        "encoding": {
          "x": {"field": "t", "type": "quantitative", "scale": {"domain": [2000.056, 2021.07], "nice": false, "zero": false},
                "axis": {"title": null, "orient": "bottom", "values": [2001,2002,2003,2004,2005,2006,2007,2008,2009,2010,2011,2012,2013,2014,2015,2016,2017,2018,2019], "domain": false, "ticks": true, "tickSize": -14, "tickColor": "#000000", "tickWidth": 1.5, "grid": true, "gridOpacity": {"condition": {"test": "datum.value % 2 == 1", "value": 1}, "value": 0}, "labelExpr": "datum.value % 2 == 0 ? substring(toString(datum.value), 2, 4) : ''", "labelOffset": 9.4, "labelPadding": 38, "labelBaseline": "alphabetic", "labelFlush": false, "labelOverlap": false}},
          "y": {"field": "v", "type": "quantitative",
                "axis": {"title": null, "orient": "right", "values": [-2, -1, 0, 1, 2, 3], "format": "d", "domain": false, "ticks": false, "grid": true, "labelAlign": "right", "labelPadding": -3.5, "labelBaseline": "alphabetic", "labelOffset": -6.5}},
          "stroke": {"datum": "HT", "scale": {"domain": ["ACM²", "HT", "BoF³"], "range": ["#3A6EB5", "#EBA125", "#5E3A87"]},
                     "legend": {"title": null, "orient": "none", "values": ["ACM²", "HT"], "legendX": 262, "legendY": 393, "symbolType": "M-1.75,0H1.75", "symbolSize": 400, "symbolStrokeWidth": 4, "rowPadding": 5.5, "labelOffset": 16.9}}
        }
      },
      {
        "data": {"name": "p2bof"},
        "mark": {"type": "line", "strokeWidth": 3.2, "strokeJoin": "round"},
        "encoding": {
          "x": {"field": "t", "type": "quantitative",
                "axis": {"title": null, "orient": "bottom", "values": [2001,2002,2003,2004,2005,2006,2007,2008,2009,2010,2011,2012,2013,2014,2015,2016,2017,2018,2019], "domain": false, "ticks": true, "tickSize": -14, "tickColor": "#000000", "tickWidth": 1.5, "grid": true, "gridOpacity": {"condition": {"test": "datum.value % 2 == 1", "value": 1}, "value": 0}, "labelExpr": "datum.value % 2 == 0 ? substring(toString(datum.value), 2, 4) : ''", "labelOffset": 9.4, "labelPadding": 38, "labelBaseline": "alphabetic", "labelFlush": false, "labelOverlap": false}},
          "y": {"field": "v", "type": "quantitative",
                "axis": {"title": null, "orient": "right", "values": [-2, -1, 0, 1, 2, 3], "format": "d", "domain": false, "ticks": false, "grid": true, "labelAlign": "right", "labelPadding": -3.5, "labelBaseline": "alphabetic", "labelOffset": -6.5}},
          "stroke": {"datum": "BoF³"}
        }
      },
      {
        "data": {"name": "p2acm"},
        "mark": {"type": "line", "strokeWidth": 3.2, "strokeJoin": "round"},
        "encoding": {
          "x": {"field": "t", "type": "quantitative",
                "axis": {"title": null, "orient": "bottom", "values": [2001,2002,2003,2004,2005,2006,2007,2008,2009,2010,2011,2012,2013,2014,2015,2016,2017,2018,2019], "domain": false, "ticks": true, "tickSize": -14, "tickColor": "#000000", "tickWidth": 1.5, "grid": true, "gridOpacity": {"condition": {"test": "datum.value % 2 == 1", "value": 1}, "value": 0}, "labelExpr": "datum.value % 2 == 0 ? substring(toString(datum.value), 2, 4) : ''", "labelOffset": 9.4, "labelPadding": 38, "labelBaseline": "alphabetic", "labelFlush": false, "labelOverlap": false}},
          "y": {"field": "v", "type": "quantitative",
                "axis": {"title": null, "orient": "right", "values": [-2, -1, 0, 1, 2, 3], "format": "d", "domain": false, "ticks": false, "grid": true, "labelAlign": "right", "labelPadding": -3.5, "labelBaseline": "alphabetic", "labelOffset": -6.5}},
          "stroke": {"datum": "ACM²"}
        }
      },
      {
        "data": {"name": "p2con"},
        "mark": {"type": "circle", "size": 47, "opacity": 1},
        "encoding": {
          "x": {"field": "t", "type": "quantitative",
                "axis": {"title": null, "orient": "bottom", "values": [2001,2002,2003,2004,2005,2006,2007,2008,2009,2010,2011,2012,2013,2014,2015,2016,2017,2018,2019], "domain": false, "ticks": true, "tickSize": -14, "tickColor": "#000000", "tickWidth": 1.5, "grid": true, "gridOpacity": {"condition": {"test": "datum.value % 2 == 1", "value": 1}, "value": 0}, "labelExpr": "datum.value % 2 == 0 ? substring(toString(datum.value), 2, 4) : ''", "labelOffset": 9.4, "labelPadding": 38, "labelBaseline": "alphabetic", "labelFlush": false, "labelOverlap": false}},
          "y": {"field": "v", "type": "quantitative",
                "axis": {"title": null, "orient": "right", "values": [-2, -1, 0, 1, 2, 3], "format": "d", "domain": false, "ticks": false, "grid": true, "labelAlign": "right", "labelPadding": -3.5, "labelBaseline": "alphabetic", "labelOffset": -6.5}},
          "fill": {"datum": "Consensus⁴", "scale": {"range": ["#B1322B"]}, "legend": null}
        }
      }
    ]
  },
  {
    "width": 394, "height": 346,
    "title": {"text": ["Average expected short rate over 10", "years"]},
    "layer": [
      {
        "data": {"values": [{}]},
        "mark": {"type": "rule", "color": "#000000", "strokeWidth": 1.3},
        "encoding": {"y": {"datum": 0, "type": "quantitative", "scale": {"domain": [-1, 5], "nice": false, "zero": false},
                           "axis": {"title": null, "orient": "right", "values": [-1, 0, 1, 2, 3, 4], "format": "d", "domain": false, "ticks": false, "grid": true, "labelAlign": "right", "labelPadding": -4, "labelBaseline": "alphabetic", "labelOffset": -6.5}}}
      },
      {
        "data": {"name": "p3ht"},
        "mark": {"type": "line", "strokeWidth": 3.2, "strokeJoin": "round"},
        "encoding": {
          "x": {"field": "t", "type": "quantitative", "scale": {"domain": [2000.11, 2021.12], "nice": false, "zero": false},
                "axis": {"title": null, "orient": "bottom", "values": [2001,2002,2003,2004,2005,2006,2007,2008,2009,2010,2011,2012,2013,2014,2015,2016,2017,2018,2019], "domain": false, "ticks": true, "tickSize": -14, "tickColor": "#000000", "tickWidth": 1.5, "grid": true, "gridOpacity": {"condition": {"test": "datum.value % 2 == 1", "value": 1}, "value": 0}, "labelExpr": "datum.value % 2 == 0 ? substring(toString(datum.value), 2, 4) : ''", "labelOffset": 9.4, "labelPadding": 38, "labelBaseline": "alphabetic", "labelFlush": false, "labelOverlap": false}},
          "y": {"field": "v", "type": "quantitative",
                "axis": {"title": null, "orient": "right", "values": [-1, 0, 1, 2, 3, 4], "format": "d", "domain": false, "ticks": false, "grid": true, "labelAlign": "right", "labelPadding": -4, "labelBaseline": "alphabetic", "labelOffset": -6.5}},
          "stroke": {"datum": "HT", "scale": {"domain": ["ACM²", "HT", "BoF³"], "range": ["#3A6EB5", "#EBA125", "#5E3A87"]},
                     "legend": {"title": null, "orient": "none", "values": ["BoF³"], "legendX": 23.9, "legendY": 393, "symbolType": "M-1.75,0H1.75", "symbolSize": 400, "symbolStrokeWidth": 4, "labelOffset": 17.7}}
        }
      },
      {
        "data": {"name": "p3bof"},
        "mark": {"type": "line", "strokeWidth": 3.2, "strokeJoin": "round"},
        "encoding": {
          "x": {"field": "t", "type": "quantitative",
                "axis": {"title": null, "orient": "bottom", "values": [2001,2002,2003,2004,2005,2006,2007,2008,2009,2010,2011,2012,2013,2014,2015,2016,2017,2018,2019], "domain": false, "ticks": true, "tickSize": -14, "tickColor": "#000000", "tickWidth": 1.5, "grid": true, "gridOpacity": {"condition": {"test": "datum.value % 2 == 1", "value": 1}, "value": 0}, "labelExpr": "datum.value % 2 == 0 ? substring(toString(datum.value), 2, 4) : ''", "labelOffset": 9.4, "labelPadding": 38, "labelBaseline": "alphabetic", "labelFlush": false, "labelOverlap": false}},
          "y": {"field": "v", "type": "quantitative",
                "axis": {"title": null, "orient": "right", "values": [-1, 0, 1, 2, 3, 4], "format": "d", "domain": false, "ticks": false, "grid": true, "labelAlign": "right", "labelPadding": -4, "labelBaseline": "alphabetic", "labelOffset": -6.5}},
          "stroke": {"datum": "BoF³"}
        }
      },
      {
        "data": {"name": "p3acm"},
        "mark": {"type": "line", "strokeWidth": 3.2, "strokeJoin": "round"},
        "encoding": {
          "x": {"field": "t", "type": "quantitative",
                "axis": {"title": null, "orient": "bottom", "values": [2001,2002,2003,2004,2005,2006,2007,2008,2009,2010,2011,2012,2013,2014,2015,2016,2017,2018,2019], "domain": false, "ticks": true, "tickSize": -14, "tickColor": "#000000", "tickWidth": 1.5, "grid": true, "gridOpacity": {"condition": {"test": "datum.value % 2 == 1", "value": 1}, "value": 0}, "labelExpr": "datum.value % 2 == 0 ? substring(toString(datum.value), 2, 4) : ''", "labelOffset": 9.4, "labelPadding": 38, "labelBaseline": "alphabetic", "labelFlush": false, "labelOverlap": false}},
          "y": {"field": "v", "type": "quantitative",
                "axis": {"title": null, "orient": "right", "values": [-1, 0, 1, 2, 3, 4], "format": "d", "domain": false, "ticks": false, "grid": true, "labelAlign": "right", "labelPadding": -4, "labelBaseline": "alphabetic", "labelOffset": -6.5}},
          "stroke": {"datum": "ACM²"}
        }
      },
      {
        "data": {"name": "p3con"},
        "mark": {"type": "circle", "size": 47, "opacity": 1},
        "encoding": {
          "x": {"field": "t", "type": "quantitative",
                "axis": {"title": null, "orient": "bottom", "values": [2001,2002,2003,2004,2005,2006,2007,2008,2009,2010,2011,2012,2013,2014,2015,2016,2017,2018,2019], "domain": false, "ticks": true, "tickSize": -14, "tickColor": "#000000", "tickWidth": 1.5, "grid": true, "gridOpacity": {"condition": {"test": "datum.value % 2 == 1", "value": 1}, "value": 0}, "labelExpr": "datum.value % 2 == 0 ? substring(toString(datum.value), 2, 4) : ''", "labelOffset": 9.4, "labelPadding": 38, "labelBaseline": "alphabetic", "labelFlush": false, "labelOverlap": false}},
          "y": {"field": "v", "type": "quantitative",
                "axis": {"title": null, "orient": "right", "values": [-1, 0, 1, 2, 3, 4], "format": "d", "domain": false, "ticks": false, "grid": true, "labelAlign": "right", "labelPadding": -4, "labelBaseline": "alphabetic", "labelOffset": -6.5}},
          "fill": {"datum": "Consensus⁴", "scale": {"range": ["#B1322B"]},
                   "legend": {"title": null, "orient": "none", "legendX": 25.5, "legendY": 422, "symbolType": "circle", "symbolSize": 47, "labelOffset": 19.3}}
        }
      }
    ]
  }
],
"resolve": {"scale": {"x": "independent", "y": "independent", "stroke": "independent", "fill": "independent"}, "legend": {"stroke": "independent", "fill": "independent"}}
}
